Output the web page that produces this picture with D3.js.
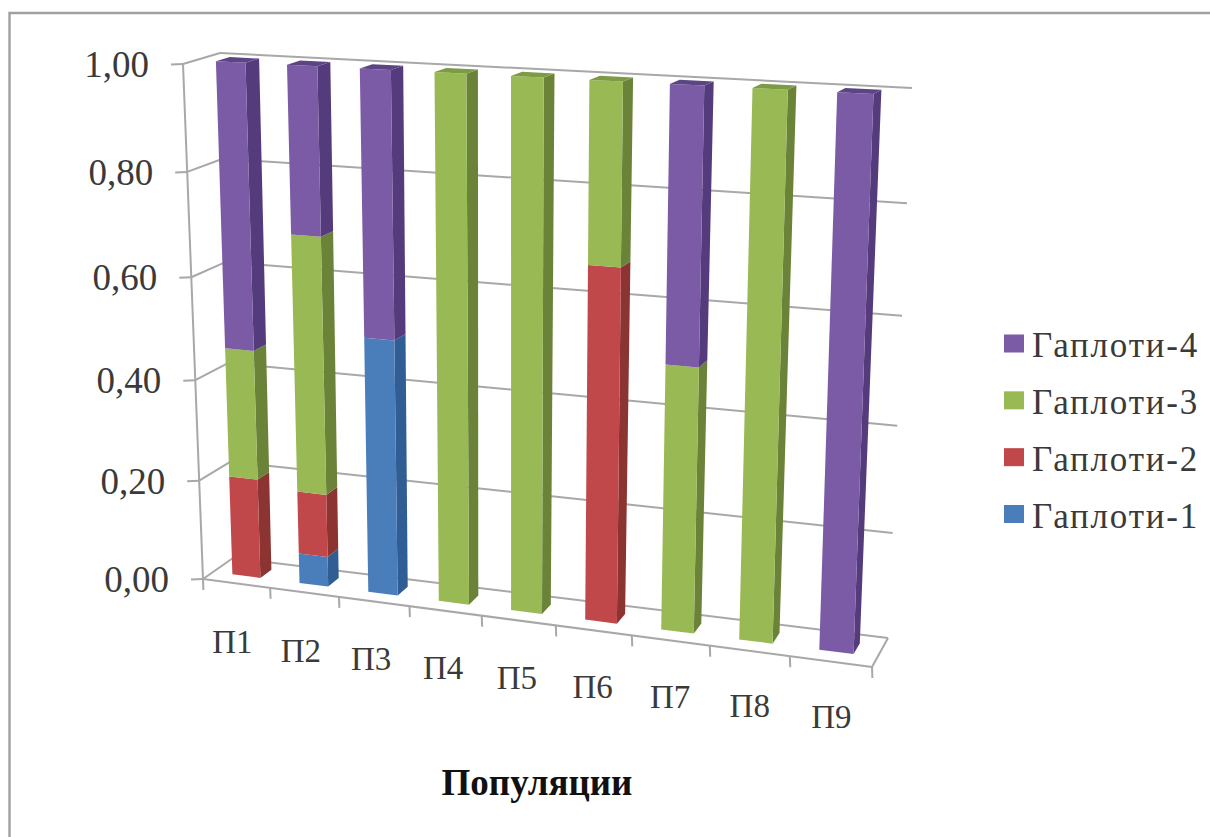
<!DOCTYPE html>
<html>
<head>
<meta charset="utf-8">
<script src="https://cdn.jsdelivr.net/npm/d3@7"></script>
<style>
  html, body { margin: 0; padding: 0; background: #fff; }
  svg { display: block; }
  text { font-family: "Liberation Serif", serif; fill: #3a3a3a; }
</style>
</head>
<body>
<svg id="chart" width="1210" height="837"></svg>
<script>
const populations = ["П1", "П2", "П3", "П4", "П5", "П6", "П7", "П8", "П9"];
const haplotypes = ["Гаплоти-1", "Гаплоти-2", "Гаплоти-3", "Гаплоти-4"];
const haplotype1 = [0, 0.06, 0.50, 0, 0, 0, 0, 0, 0];
const haplotype2 = [0.20, 0.125, 0, 0, 0, 0.67, 0, 0, 0];
const haplotype3 = [0.255, 0.50, 0, 1, 1, 0.33, 0.50, 1, 0];
const haplotype4 = [0.545, 0.315, 0.50, 0, 0, 0, 0.50, 0, 1];
const yTicks = [0, 0.2, 0.4, 0.6, 0.8, 1];
const frontColours = ["#4a7ebb", "#c0474a", "#98b954", "#7c5ba6"];
const sideColours = ["#2f5d94", "#8c3431", "#6a8339", "#543b7c"];
const topColours = ["#3a6ca6", "#a33c3a", "#7d9b44", "#5d4585"];

const svg = d3.select("#chart");

// Corners of the 3D plot box on screen
const box = {
  fbl: [203, 579], fbr: [872, 667], bbl: [233, 558], bbr: [888, 638],
  ftl: [183, 64], ftr: [892, 99], btl: [220, 53], btr: [912, 88]
};

// Perspective foreshortening along the width and the height of the box
const warp = k => t => t / (t + k * (1 - t));
const warpX = warp(1.12);
const warpY = warp(1.06);

const x = d3.scaleBand().domain(populations).range([0, 1]).paddingInner(0.58).paddingOuter(0.29);
const step = x.step();
const y = d3.scaleLinear().domain([0, 1]).range([0, 1]);

// Maps (across, value, depth) to a screen point by trilinear interpolation
function project(u, v, w) {
  const a = warpX(u), b = warpY(y(v));
  const mix = (p, q, s) => [p[0] + (q[0] - p[0]) * s, p[1] + (q[1] - p[1]) * s];
  const front = mix(mix(box.fbl, box.fbr, a), mix(box.ftl, box.ftr, a), b);
  const back = mix(mix(box.bbl, box.bbr, a), mix(box.btl, box.btr, a), b);
  return mix(front, back, w);
}

const poly = pts => "M" + pts.map(p => p[0].toFixed(1) + "," + p[1].toFixed(1)).join("L") + "Z";
const lineStroke = "#a8a8a8";

// Chart frame
svg.append("path").attr("d", "M9.5,837V13H1210").attr("fill", "none").attr("stroke", "#a0a0a0").attr("stroke-width", 2.4);

// Walls and floor grid
const grid = svg.append("g").attr("fill", "none").attr("stroke", lineStroke).attr("stroke-width", 2);
const seg = (g, a, b) => g.append("line").attr("x1", a[0]).attr("y1", a[1]).attr("x2", b[0]).attr("y2", b[1]);
yTicks.forEach(t => {
  const f = project(0, t, 0), b = project(0, t, 1), r = project(1, t, 1);
  seg(grid, f, b);
  seg(grid, b, r);
  seg(grid, [f[0] - 12, f[1] + 0.5], f);
});
seg(grid, project(0, 0, 0), project(0, 1, 0));
seg(grid, project(0, 0, 0), project(1, 0, 0));
seg(grid, project(1, 0, 0), project(1, 0, 1));
d3.range(populations.length + 1).forEach(i => {
  const p = project(i * step, 0, 0);
  seg(grid, p, [p[0] + 0.4, p[1] + 11]);
});

// Stacked columns with front, side and top faces
const depthFront = 0.34, depthBack = 0.72;
const series = [haplotype1, haplotype2, haplotype3, haplotype4];
const bars = svg.append("g");
populations.forEach((name, i) => {
  const u0 = x(name), u1 = x(name) + x.bandwidth();
  let base = 0;
  const total = d3.sum(series, s => s[i]);
  series.forEach((values, s) => {
    const value = values[i];
    if (!value) return;
    const top = base + value;
    const g = bars.append("g");
    g.append("path").attr("fill", sideColours[s]).attr("d", poly([
      project(u1, base, depthFront), project(u1, base, depthBack),
      project(u1, top, depthBack), project(u1, top, depthFront)]));
    g.append("path").attr("fill", frontColours[s]).attr("d", poly([
      project(u0, base, depthFront), project(u1, base, depthFront),
      project(u1, top, depthFront), project(u0, top, depthFront)]));
    if (top >= total - 1e-6) {
      g.append("path").attr("fill", topColours[s]).attr("d", poly([
        project(u0, top, depthFront), project(u1, top, depthFront),
        project(u1, top, depthBack), project(u0, top, depthBack)]));
    }
    base = top;
  });
});

// Value axis labels sit along the slanted axis line
const valueFormat = v => v.toFixed(2).replace(".", ",");
svg.append("g").selectAll("text").data(yTicks).join("text")
  .attr("x", d => project(0, d, 0)[0] - 34)
  .attr("y", d => project(0, d, 0)[1] + 13)
  .attr("text-anchor", "end")
  .attr("font-size", 37)
  .text(valueFormat);

// Category labels follow the slope of the front edge
svg.append("g").selectAll("text").data(populations).join("text")
  .attr("x", (d, i) => project(x(d) + x.bandwidth() / 2, 0, 0)[0] - 4 + i * 0.6)
  .attr("y", (d, i) => project(x(d) + x.bandwidth() / 2, 0, 0)[1] + 70 - i * 0.5)
  .attr("text-anchor", "middle")
  .attr("font-size", 33)
  .text(d => d);

// Axis title
svg.append("text").attr("x", 537).attr("y", 795).attr("text-anchor", "middle")
  .attr("font-size", 37).attr("font-weight", "bold").style("fill", "#111").text("Популяции");

// Legend, listed from the top of the stack down
const legendY = d3.scalePoint().domain(haplotypes.slice().reverse()).range([343.5, 514]);
const legend = svg.append("g").selectAll("g").data(haplotypes).join("g")
  .attr("transform", d => `translate(1004,${legendY(d)})`);
legend.append("rect").attr("x", 0).attr("y", -9).attr("width", 20).attr("height", 18)
  .attr("fill", (d, i) => frontColours[i]);
legend.append("text").attr("x", 28).attr("y", 13.5).attr("font-size", 35)
  .attr("letter-spacing", 1.8).text(d => d);
</script>
</body>
</html>
